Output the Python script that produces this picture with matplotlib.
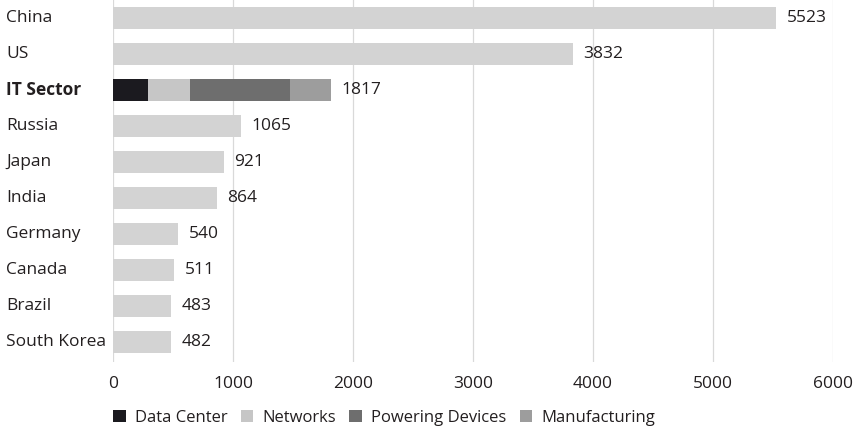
import matplotlib
matplotlib.use("Agg")
import matplotlib.pyplot as plt
from matplotlib.patches import Patch
from matplotlib.transforms import blended_transform_factory
import numpy as np

categories = ["China", "US", "IT Sector", "Russia", "Japan", "India", "Germany", "Canada", "Brazil", "South Korea"]
country_values = [5523, 3832, None, 1065, 921, 864, 540, 511, 483, 482]
it_segments = ["Data Center", "Networks", "Powering Devices", "Manufacturing"]
it_values = [288, 354, 835, 340]
it_total = 1817
x_ticks = [0, 1000, 2000, 3000, 4000, 5000, 6000]

seg_colors = ["#1b1a1f", "#c6c6c6", "#6e6e6e", "#9d9d9d"]
country_color = "#d3d3d3"
text_color = "#231f20"

plt.rcParams['font.family'] = ['Open Sans', 'DejaVu Sans']
fs = 12.5

fig = plt.figure(figsize=(8.55, 4.33), dpi=100)
ax = fig.add_axes([113/855, 1 - 362/433, (833-113)/855, 362/433])

h = 0.6
for i, (cat, v) in enumerate(zip(categories, country_values)):
    if v is None:
        left = 0
        for sv, c in zip(it_values, seg_colors):
            ax.barh(i, sv, left=left, height=h, color=c, zorder=3)
            left += sv
        ax.text(it_total + 90, i, f"{it_total}", va="center", ha="left", fontsize=fs, color=text_color)
    else:
        ax.barh(i, v, height=h, color=country_color, zorder=3)
        ax.text(v + 90, i, f"{v}", va="center", ha="left", fontsize=fs, color=text_color)

ax.set_ylim(len(categories) - 0.45, -0.5)
ax.set_xlim(0, 6000)
ax.set_xticks(x_ticks)
ax.set_xticklabels([str(t) for t in x_ticks], fontsize=fs, color=text_color)
ax.set_yticks([])
ax.grid(axis="x", color="#d9d9d9", linewidth=0.9, zorder=0)
for s in ax.spines.values():
    s.set_visible(False)
ax.tick_params(axis="x", length=0, pad=10)

tr = blended_transform_factory(fig.transFigure, ax.transData)
for i, cat in enumerate(categories):
    ax.text(6/855, i, cat, transform=tr, va="center", ha="left", fontsize=fs, color=text_color,
            fontweight="bold" if cat == "IT Sector" else "normal")

handles = [Patch(facecolor=c, edgecolor="none") for c in seg_colors]
fig.legend(handles, it_segments, loc="center left", bbox_to_anchor=(98/855, 1 - 418/433), ncol=4,
           frameon=False, fontsize=12, handlelength=0.75, handleheight=0.75, handletextpad=0.55,
           columnspacing=0.8, labelcolor=text_color)

fig.savefig("out.png", dpi=100)
